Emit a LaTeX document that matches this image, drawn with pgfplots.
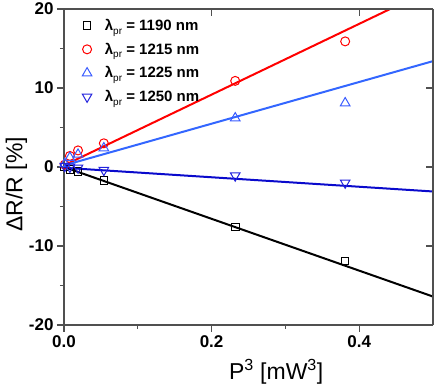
\documentclass[border=0pt]{standalone}
\usepackage{fontspec}
\setmainfont{Liberation Sans}
\usepackage{pgfplots}
\pgfplotsset{compat=1.18}
\usepackage{pgfplotstable}
\definecolor{rd}{HTML}{FF0000}
\definecolor{lb}{HTML}{3366FF}
\definecolor{lbm}{HTML}{3A5CFF}
\definecolor{db}{HTML}{0A0ACC}
\definecolor{dbm}{HTML}{2222DD}
\definecolor{axc}{HTML}{505050}
\newcommand{\lpr}{λ\raisebox{-0.45ex}{\mdseries\fontsize{10}{10}\selectfont pr}}

% P^3 [mW^3]  dR/R [%]
\pgfplotstableread{
x y
0.001 0.0
0.008 -0.3
0.019 -0.6
0.054 -1.7
0.232 -7.6
0.381 -11.9
}\tA
\pgfplotstableread{
x y
0.001 0.3
0.008 1.4
0.019 2.1
0.054 3.0
0.232 10.9
0.381 15.9
}\tB
\pgfplotstableread{
x y
0.001 0.4
0.008 1.2
0.019 1.6
0.054 2.4
0.232 6.2
0.381 8.1
}\tC
\pgfplotstableread{
x y
0.001 0.1
0.008 0.0
0.019 -0.1
0.054 -0.4
0.232 -1.1
0.381 -2.0
}\tD

\begin{document}
\begin{tikzpicture}
\begin{axis}[name=main, width=369pt, height=316pt, scale only axis,
  xmin=0, xmax=0.5, ymin=-20, ymax=20,
  axis x line*=bottom, axis y line*=left,
  axis line style={-, axc, line width=1.5pt},
  xtick={0,0.2,0.4}, minor xtick={0.1,0.3},
  ytick={-20,-10,0,10,20}, minor ytick={-15,-5,5,15},
  tick align=outside, major tick length=7pt, minor tick length=4pt,
  every tick/.style={axc, line width=1.2pt},
  /pgf/number format/assume math mode=true,
  tick label style={font=\bfseries\fontsize{17}{17}\selectfont},
  xticklabel style={/pgf/number format/.cd, fixed, fixed zerofill, precision=1},
  label style={font=\fontsize{23}{23}\selectfont},
  xlabel={P\textsuperscript{3} [mW\textsuperscript{3}]},
  xlabel style={at={(axis description cs:0.575,-0.171)}, anchor=base},
  ylabel={ΔR/R [\%]},
  ylabel style={at={(axis description cs:-0.129,0.445)}, anchor=center},
  legend style={at={(axis description cs:0.041,0.981)}, anchor=north west,
    draw=none, fill=none, font=\bfseries\fontsize{15}{15}\selectfont,
    row sep=7pt, /tikz/every odd column/.append style={column sep=11pt}},
  legend cell align=left]
\addplot[black, line width=2pt, forget plot] coordinates {(0,0) (0.5,-16.4)};
\addplot[rd, line width=2pt, forget plot] coordinates {(0,0.2) (0.5,22.6)};
\addplot[lb, line width=2pt, forget plot] coordinates {(0,0.2) (0.5,13.4)};
\addplot[db, line width=2pt, forget plot] coordinates {(0,-0.1) (0.5,-3.1)};
\addplot[only marks, mark=square, mark size=3.8pt, black, mark options={line width=1pt}] table {\tA};
\addplot[only marks, mark=o, mark size=4.5pt, rd, mark options={line width=1pt}] table {\tB};
\addplot[only marks, mark=triangle, mark size=5.5pt, lbm, mark options={line width=1pt}] table {\tC};
\addplot[only marks, mark=triangle, mark size=5.5pt, dbm, mark options={line width=1pt, rotate=180}] table {\tD};
\legend{\lpr{} = 1190 nm, \lpr{} = 1215 nm, \lpr{} = 1225 nm, \lpr{} = 1250 nm}
\end{axis}
\begin{axis}[width=369pt, height=316pt, scale only axis,
  xmin=0, xmax=0.5, ymin=-20, ymax=20,
  axis x line*=top, axis y line*=right,
  axis line style={-, axc, line width=1.5pt},
  xtick={0.2,0.4}, ytick={-10,0,10}, xticklabels={}, yticklabels={},
  tick align=inside, major tick length=7pt,
  every tick/.style={axc, line width=1.2pt}]
\end{axis}
\pgfresetboundingbox
\path[use as bounding box] ([xshift=-64pt,yshift=-67pt]main.south west) rectangle ([xshift=3pt,yshift=9pt]main.north east);
\end{tikzpicture}
\end{document}
